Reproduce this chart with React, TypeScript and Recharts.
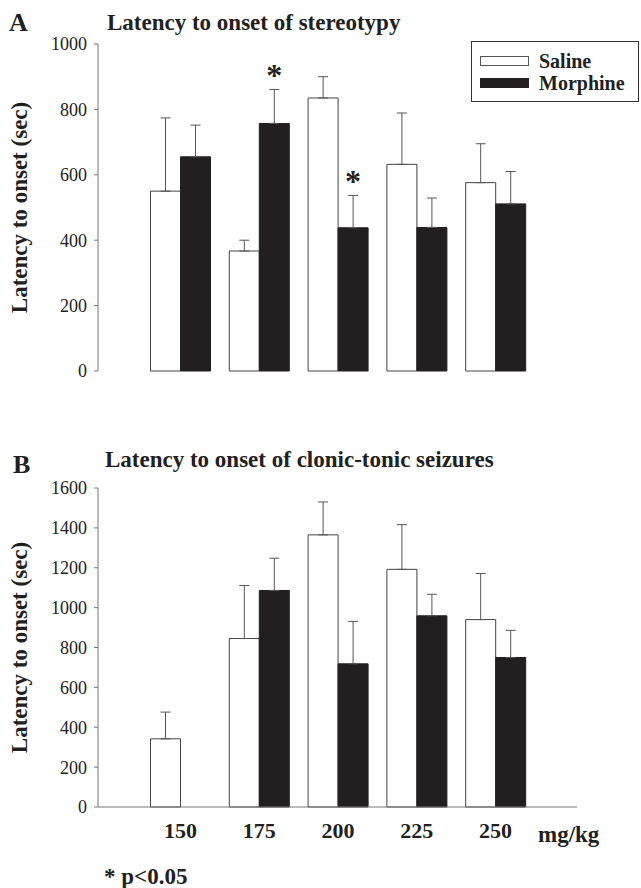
import React from 'react'
import {
  BarChart,
  Bar,
  XAxis,
  YAxis,
  ErrorBar,
  LabelList,
  Legend,
} from 'recharts'

const doses = ['150', '175', '200', '225', '250']

// panel A: latency to onset of stereotypy
const salineStereo = [550, 367, 835, 632, 576]
const salineStereoSem = [224, 33, 65, 157, 119]
const morphineStereo = [655, 757, 438, 439, 511]
const morphineStereoSem = [97, 104, 99, 90, 99]
const stereoSignificant = [false, true, true, false, false]
const stereoTicks = [0, 200, 400, 600, 800, 1000]

// panel B: latency to onset of clonic-tonic seizures
const salineSeizure = [342, 845, 1365, 1192, 940]
const salineSeizureSem = [134, 266, 165, 224, 231]
const morphineSeizure = [0, 1086, 718, 959, 750]
const morphineSeizureSem = [0, 162, 213, 108, 136]
const seizureTicks = [0, 200, 400, 600, 800, 1000, 1200, 1400, 1600]

const serif = '"Liberation Serif", "Times New Roman", serif'
const axisGray = '#777'
const ink = '#231f20'

const buildRows = (
  saline: number[],
  salineSem: number[],
  morphine: number[],
  morphineSem: number[],
  sig?: boolean[]
) =>
  doses.map((dose, i) => ({
    dose,
    saline: saline[i],
    salineErr: [0, salineSem[i]],
    morphine: morphine[i],
    morphineErr: [0, morphineSem[i]],
    morphineSem: morphineSem[i],
    sig: sig ? sig[i] : false,
  }))

const stereoRows = buildRows(
  salineStereo,
  salineStereoSem,
  morphineStereo,
  morphineStereoSem,
  stereoSignificant
)
const seizureRows = buildRows(
  salineSeizure,
  salineSeizureSem,
  morphineSeizure,
  morphineSeizureSem
)

const tickStyle = { fontFamily: serif, fontSize: 18, fill: '#222' }

const yLabel = ({ viewBox }: any) => (
  <text
    x={19}
    y={viewBox.y + viewBox.height / 2}
    transform={`rotate(-90, 19, ${viewBox.y + viewBox.height / 2})`}
    textAnchor="middle"
    dominantBaseline="central"
    fontFamily={serif}
    fontWeight="bold"
    fontSize={23}
    fill={ink}
  >
    Latency to onset (sec)
  </text>
)

// asterisk above the error bar of significant morphine bars
const asterisk = (props: any) => {
  const { x, y, width, height, value, index } = props
  const row = stereoRows[index]
  if (!row || !row.sig || !value) return null
  const pxPerUnit = height / value
  const top = y - row.morphineSem * pxPerUnit
  return (
    <text
      x={x + width / 2}
      y={top - 3}
      textAnchor="middle"
      fontFamily={serif}
      fontWeight="bold"
      fontSize={32}
      fill={ink}
    >
      *
    </text>
  )
}

const legendBox = () => (
  <div
    style={{
      border: '1px solid #333',
      width: 168,
      height: 61,
      boxSizing: 'border-box',
      fontFamily: serif,
      fontWeight: 'bold',
      fontSize: 20,
      color: ink,
      padding: '8px 0 0 8px',
    }}
  >
    {[
      { name: 'Saline', fill: '#fff' },
      { name: 'Morphine', fill: ink },
    ].map((item) => (
      <div
        key={item.name}
        style={{ display: 'flex', alignItems: 'center', height: 22 }}
      >
        <div
          style={{
            width: 49,
            height: 10,
            boxSizing: 'border-box',
            background: item.fill,
            border: `1px solid ${item.fill === '#fff' ? '#555' : ink}`,
            marginRight: 10,
          }}
        />
        <span>{item.name}</span>
      </div>
    ))}
  </div>
)

const mgKgLabel = ({ viewBox }: any) => (
  <text
    x={538}
    y={viewBox.y + 35}
    fontFamily={serif}
    fontWeight="bold"
    fontSize={23}
    fill={ink}
  >
    mg/kg
  </text>
)

export default function App() {
  return (
    <div
      style={{
        position: 'absolute',
        left: 0,
        top: 0,
        width: 641,
        height: 888,
        background: '#fff',
      }}
    >
      <svg
        width={641}
        height={888}
        style={{ position: 'absolute', left: 0, top: 0 }}
      >
        <g fontFamily={serif} fontWeight="bold" fill={ink}>
          <text x={9} y={31} fontSize={26}>
            A
          </text>
          <text x={107} y={30} fontSize={23}>
            Latency to onset of stereotypy
          </text>
          <text x={13} y={473} fontSize={26}>
            B
          </text>
          <text x={105} y={467} fontSize={23}>
            Latency to onset of clonic-tonic seizures
          </text>
          <text x={104} y={884} fontSize={23}>
            * p&lt;0.05
          </text>
        </g>
      </svg>

      <div style={{ position: 'absolute', left: 0, top: 0 }}>
        <BarChart
          width={641}
          height={400}
          data={stereoRows}
          margin={{ top: 44, right: 64, bottom: 29, left: 0 }}
          barCategoryGap={9.5}
          barGap={0}
        >
          <XAxis
            dataKey="dose"
            tick={false}
            tickLine={false}
            height={0}
            padding={{ left: 43, right: 42 }}
            axisLine={{ stroke: axisGray }}
          />
          <YAxis
            width={98}
            domain={[0, 1000]}
            ticks={stereoTicks}
            tick={tickStyle}
            tickSize={4}
            tickMargin={7}
            tickLine={{ stroke: axisGray }}
            axisLine={{ stroke: axisGray }}
            label={yLabel}
          />
          <Legend
            layout="horizontal"
            verticalAlign="middle"
            align="center"
            content={legendBox}
            wrapperStyle={{ left: 471, top: 41, width: 168, height: 61 }}
          />
          <Bar
            dataKey="saline"
            name="Saline"
            fill="#fff"
            stroke="#444"
            strokeWidth={1}
            isAnimationActive={false}
          >
            <ErrorBar
              dataKey="salineErr"
              width={5}
              stroke="#555"
              strokeWidth={1}
              direction="y"
            />
          </Bar>
          <Bar
            dataKey="morphine"
            name="Morphine"
            fill={ink}
            stroke={ink}
            strokeWidth={1}
            isAnimationActive={false}
          >
            <ErrorBar
              dataKey="morphineErr"
              width={5}
              stroke="#555"
              strokeWidth={1}
              direction="y"
            />
            <LabelList dataKey="morphine" content={asterisk} />
          </Bar>
        </BarChart>
      </div>

      <div style={{ position: 'absolute', left: 0, top: 420 }}>
        <BarChart
          width={641}
          height={468}
          data={seizureRows}
          margin={{ top: 68, right: 64, bottom: 41, left: 0 }}
          barCategoryGap={9.5}
          barGap={0}
        >
          <XAxis
            dataKey="dose"
            height={40}
            tickLine={false}
            tickSize={0}
            tickMargin={15}
            padding={{ left: 43, right: 42 }}
            axisLine={{ stroke: axisGray }}
            tick={{ ...tickStyle, fontSize: 22, fontWeight: 'bold', fill: ink }}
            label={mgKgLabel}
          />
          <YAxis
            width={98}
            domain={[0, 1600]}
            ticks={seizureTicks}
            tick={tickStyle}
            tickSize={4}
            tickMargin={7}
            tickLine={{ stroke: axisGray }}
            axisLine={{ stroke: axisGray }}
            label={yLabel}
          />
          <Bar
            dataKey="saline"
            fill="#fff"
            stroke="#444"
            strokeWidth={1}
            isAnimationActive={false}
          >
            <ErrorBar
              dataKey="salineErr"
              width={5}
              stroke="#555"
              strokeWidth={1}
              direction="y"
            />
          </Bar>
          <Bar
            dataKey="morphine"
            fill={ink}
            stroke={ink}
            strokeWidth={1}
            isAnimationActive={false}
          >
            <ErrorBar
              dataKey="morphineErr"
              width={5}
              stroke="#555"
              strokeWidth={1}
              direction="y"
            />
          </Bar>
        </BarChart>
      </div>
    </div>
  )
}
